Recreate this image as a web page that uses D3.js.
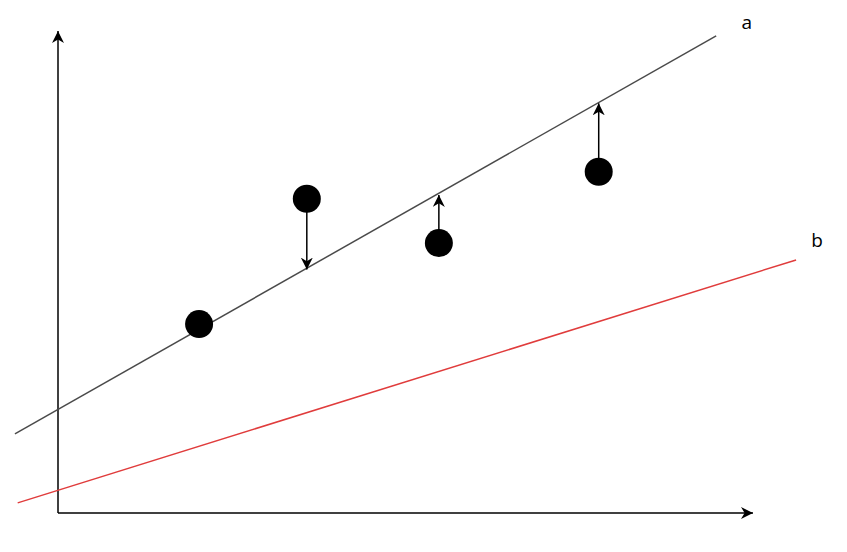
<!DOCTYPE html>
<html>
<head>
<meta charset="utf-8">
<script src="https://cdn.jsdelivr.net/npm/d3@7"></script>
<style>
    html, body { margin: 0; padding: 0; background: #fff; }
    svg { display: block; }
    text { font-family: "Open Sans", sans-serif; }
</style>
</head>
<body>
<div class="container"></div>
<script>
// data in chart units (x: 0..100, y: 0..100)
const pointX = [20.3, 35.8, 54.8, 77.8];
const pointY = [39.2, 65.2, 56.0, 70.8];

// regression line a and line b, given by their two end points
const lineAx = [-6.2, 94.7];
const lineAy = [16.4, 99.0];
const lineBx = [-5.8, 106.2];
const lineBy = [2.1, 52.5];

// residual arrows: from point (index) towards line a
const arrowIdx = [1, 2, 3];
const arrowEndY = [50.5, 66.0, 85.0];

const labels = ['a', 'b'];
const labelX = [99.1, 109.2];
const labelY = [101.9, 56.6];

const width = 847;
const height = 552;

const x = d3.scaleLinear().domain([0, 100]).range([58, 753]);
const y = d3.scaleLinear().domain([0, 100]).range([513, 31]);

const svg = d3.select('.container').append('svg').attr('width', width).attr('height', height);

const defs = svg.append('defs');

function addMarker(id, len, half)
{
    defs.append('marker')
        .attr('id', id)
        .attr('markerUnits', 'userSpaceOnUse')
        .attr('viewBox', `${-len} ${-half} ${len} ${half * 2}`)
        .attr('refX', 0).attr('refY', 0)
        .attr('markerWidth', len).attr('markerHeight', half * 2)
        .attr('orient', 'auto')
        .append('path')
        .attr('d', `M0,0 L${-len},${-half} L${-len * 0.7},0 L${-len},${half} Z`)
        .attr('fill', '#000');
}

addMarker('axisArrow', 12, 6);
addMarker('resArrow', 12, 6);

// axes
svg.append('path')
    .attr('d', d3.line()([[x(0), y(0)], [x(0), y(100)]]))
    .attr('stroke', '#000').attr('stroke-width', 1.5).attr('fill', 'none')
    .attr('marker-end', 'url(#axisArrow)');

svg.append('path')
    .attr('d', d3.line()([[x(0), y(0)], [x(100), y(0)]]))
    .attr('stroke', '#000').attr('stroke-width', 1.5).attr('fill', 'none')
    .attr('marker-end', 'url(#axisArrow)');

// lines
svg.append('line')
    .attr('x1', x(lineAx[0])).attr('y1', y(lineAy[0]))
    .attr('x2', x(lineAx[1])).attr('y2', y(lineAy[1]))
    .attr('stroke', '#4a4a4a').attr('stroke-width', 1.5);

svg.append('line')
    .attr('x1', x(lineBx[0])).attr('y1', y(lineBy[0]))
    .attr('x2', x(lineBx[1])).attr('y2', y(lineBy[1]))
    .attr('stroke', '#e03c3c').attr('stroke-width', 1.5);

// residual arrows
const r = 14;
svg.selectAll('.res').data(arrowIdx).enter().append('line')
    .attr('class', 'res')
    .attr('x1', i => x(pointX[i]))
    .attr('y1', (i, k) => y(pointY[i]) + (arrowEndY[k] < pointY[i] ? r - 1 : -(r - 1)))
    .attr('x2', i => x(pointX[i]))
    .attr('y2', (i, k) => y(arrowEndY[k]))
    .attr('stroke', '#000').attr('stroke-width', 1.5)
    .attr('marker-end', 'url(#resArrow)');

// points
svg.selectAll('.pt').data(pointX).enter().append('circle')
    .attr('class', 'pt')
    .attr('cx', d => x(d))
    .attr('cy', (d, i) => y(pointY[i]))
    .attr('r', r)
    .attr('fill', '#000');

// labels
svg.selectAll('.lbl').data(labels).enter().append('text')
    .attr('class', 'lbl')
    .attr('x', (d, i) => x(labelX[i]))
    .attr('y', (d, i) => y(labelY[i]))
    .attr('text-anchor', 'middle')
    .attr('dominant-baseline', 'central')
    .attr('font-size', 19)
    .attr('fill', '#000')
    .text(d => d);
</script>
</body>
</html>
